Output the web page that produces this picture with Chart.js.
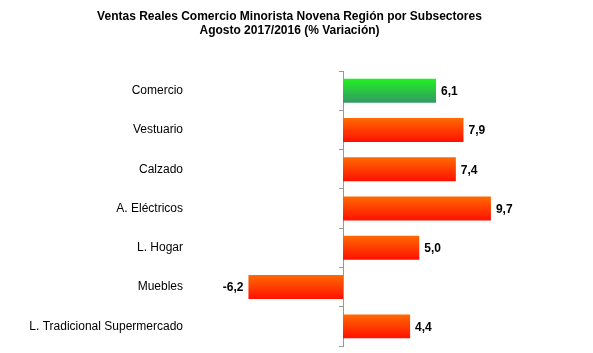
<!DOCTYPE html>
<html>
<head>
<meta charset="utf-8">
<script src="https://cdn.jsdelivr.net/npm/chart.js@4.4.0/dist/chart.umd.min.js"></script>
<style>
  html, body { margin: 0; padding: 0; background: #fff; overflow: hidden; }
  canvas { display: block; }
</style>
</head>
<body>
<canvas id="chart" width="593" height="353"></canvas>
<script>
const categories = [
  "Comercio",
  "Vestuario",
  "Calzado",
  "A. Eléctricos",
  "L. Hogar",
  "Muebles",
  "L. Tradicional Supermercado",
];
const variation = [6.1, 7.9, 7.4, 9.7, 5.0, -6.2, 4.4];
const titleLines = [
  "Ventas Reales Comercio Minorista Novena Región por Subsectores",
  "Agosto 2017/2016 (% Variación)",
];

const FONT = "Arial, 'Liberation Sans', sans-serif";
const BAR_PCT = 0.61;
const AXIS_X = 343; // zero line sits at the left edge of the plot area

// colour each bar with a vertical gradient, green for the total
function barColor(context) {
  const chart = context.chart;
  const yScale = chart.scales.y;
  const fallback = context.dataIndex === 0 ? "#2bc84a" : "#ff4400";
  if (!yScale || !chart.chartArea) return fallback;
  const cy = yScale.getPixelForValue(context.dataIndex);
  const half = (yScale.height / categories.length) * BAR_PCT / 2;
  if (!Number.isFinite(cy) || !Number.isFinite(half)) return fallback;
  const g = chart.ctx.createLinearGradient(0, cy - half, 0, cy + half);
  if (context.dataIndex === 0) {
    g.addColorStop(0, "#22f022");
    g.addColorStop(1, "#339966");
  } else {
    g.addColorStop(0, "#ff6a00");
    g.addColorStop(1, "#ff1000");
  }
  return g;
}

const valueLabels = {
  id: "valueLabels",
  afterDatasetsDraw(chart) {
    const { ctx } = chart;
    const meta = chart.getDatasetMeta(0);
    ctx.save();
    ctx.font = "bold 12px " + FONT;
    ctx.fillStyle = "#000";
    ctx.textBaseline = "middle";
    meta.data.forEach((bar, i) => {
      const v = variation[i];
      const txt = v.toFixed(1).replace(".", ",");
      if (v >= 0) {
        ctx.textAlign = "left";
        ctx.fillText(txt, bar.x + 5, bar.y + 1);
      } else {
        ctx.textAlign = "right";
        ctx.fillText(txt, bar.x - 5, bar.y + 1);
      }
    });
    ctx.restore();
  },
};

new Chart(document.getElementById("chart"), {
  type: "bar",
  data: {
    labels: categories,
    datasets: [
      {
        data: variation,
        backgroundColor: barColor,
        borderWidth: 0,
        categoryPercentage: BAR_PCT,
        barPercentage: 1.0,
        clip: false,
      },
    ],
  },
  options: {
    indexAxis: "y",
    responsive: false,
    animation: false,
    layout: { autoPadding: false, padding: { left: 0, right: 14, top: 0, bottom: 7 } },
    plugins: {
      legend: { display: false },
      tooltip: { enabled: false },
      title: {
        display: true,
        text: titleLines,
        color: "#000",
        font: { family: FONT, size: 12, weight: "bold", lineHeight: 1.17 },
        padding: { top: 10, bottom: 33 },
      },
    },
    scales: {
      x: {
        display: false,
        min: 0,
        max: (593 - 14 - AXIS_X) / 15.25,
      },
      y: {
        afterFit(scale) {
          scale.width = AXIS_X;
          // tick padding is meant for horizontal spacing only
          scale.paddingTop = 0;
          scale.paddingBottom = 0;
        },
        grid: {
          display: true,
          drawOnChartArea: false,
          drawTicks: true,
          tickLength: 4,
          color: "#999",
          offset: true,
        },
        border: { display: true, color: "#999", width: 1 },
        ticks: {
          color: "#000",
          padding: 156,
          font: { family: FONT, size: 12 },
        },
      },
    },
  },
  plugins: [valueLabels],
});
</script>
</body>
</html>
